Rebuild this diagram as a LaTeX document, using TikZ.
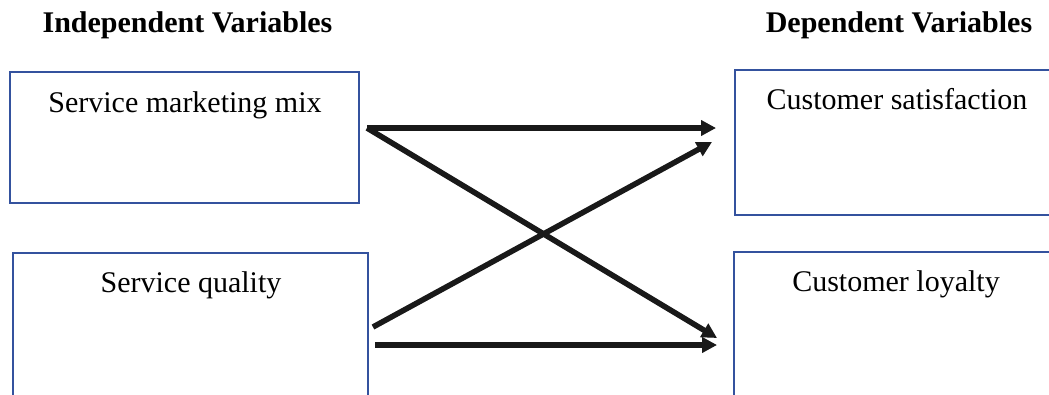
\documentclass[tikz,border=0pt]{standalone}
\usepackage{fontspec}
\setmainfont{Liberation Serif}
\usetikzlibrary{arrows.meta}
\definecolor{boxblue}{RGB}{52,82,158}
\begin{document}
\begin{tikzpicture}[x=1pt,y=-1pt,
  varbox/.style={draw=boxblue,line width=1.8pt,rectangle,inner sep=0pt},
  lbl/.style={font=\fontsize{30}{34}\selectfont,anchor=base,inner sep=0pt},
  ttl/.style={font=\fontsize{30}{34}\selectfont\bfseries,anchor=base,inner sep=0pt},
  link/.style={line width=5.5pt,draw=black!90,-{Triangle[length=15pt,width=15pt]}},
  shade/.style={line width=5.5pt,draw=black!30,-{Triangle[length=15pt,width=15pt]}}]
\useasboundingbox (0,0) rectangle (1049,394);
\clip (0,0) rectangle (1049,394);
% titles
\node[ttl] (tin) at (187.5,32) {Independent Variables};
\node[ttl] (tdep) at (899,32) {Dependent Variables};
% boxes
\node[varbox,minimum width=349pt,minimum height=131pt] (smm) at (184.5,137.5) {};
\node[varbox,minimum width=355pt,minimum height=160pt] (sq) at (190.5,333) {};
\node[varbox,minimum width=334pt,minimum height=145pt] (cs) at (902,142.5) {};
\node[varbox,minimum width=334pt,minimum height=160pt] (cl) at (901,332) {};
% box texts
\node[lbl] (tsmm) at (185,112) {Service marketing mix};
\node[lbl] (tsq) at (191,292) {Service quality};
\node[lbl] (tcs) at (897,109) {Customer satisfaction};
\node[lbl] (tcl) at (896,291) {Customer loyalty};
% arrow endpoints
\coordinate (a1s) at (367,128);
\coordinate (a1e) at (716,128);
\coordinate (a2e) at (717,338);
\coordinate (a3s) at (373,327);
\coordinate (a3e) at (712,142);
\coordinate (a4s) at (375,345);
\coordinate (a4e) at (717,345);
% shadows
\begin{scope}[shift={(1.5,2)},opacity=0.5]
\draw[shade] (a1s) -- (a1e);
\draw[shade] (a1s) -- (a2e);
\draw[shade] (a3s) -- (a3e);
\draw[shade] (a4s) -- (a4e);
\end{scope}
% arrows
\draw[link] (a1s) -- (a1e);
\draw[link] (a1s) -- (a2e);
\draw[link] (a3s) -- (a3e);
\draw[link] (a4s) -- (a4e);
\end{tikzpicture}
\end{document}
